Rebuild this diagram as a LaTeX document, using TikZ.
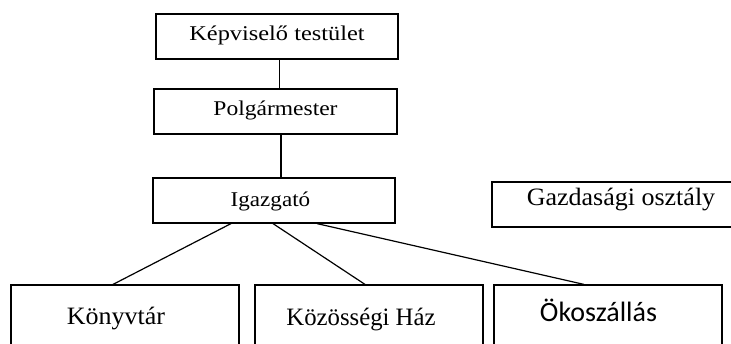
\documentclass[tikz,border=0pt]{standalone}
\usepackage{graphicx}
\usepackage{fontspec}
\setmainfont{Liberation Serif}
\newfontfamily\calib{Carlito}
\newcommand\widetext[2]{\scalebox{#1}[1]{#2}}
\begin{document}
\begin{tikzpicture}[x=1pt,y=-1pt,
  box/.style={draw=black,line width=1.2pt,inner sep=0pt,minimum height=45pt,text depth=10pt},
  topbox/.style={box,minimum width=242pt,font=\fontsize{21}{25}\selectfont},
  lowbox/.style={box,minimum width=228pt,minimum height=60pt,text height=22pt},
  link/.style={draw=black,line width=1.2pt}]
\clip (0,0) rectangle (731,343);
\fill[white] (0,0) rectangle (731,343);
\node[topbox,text height=18pt] (kep) at (277,36.5) {\widetext{1.16}{Képviselő testület}};
\node[topbox,minimum width=243pt,text height=17pt] (pol) at (275.5,111.5) {\widetext{1.12}{Polgármester}};
\node[topbox,text height=21pt] (igaz) at (274,200.5) {\widetext{1.1}{Igazgató}\hspace*{7pt}};
\node[box,minimum width=258pt,text height=11pt,font=\fontsize{25}{29}\selectfont] (gaz) at (621,204.5) {\widetext{1.04}{Gazdasági osztály}};
\node[lowbox,text height=28pt,font=\fontsize{25}{29}\selectfont] (konyv) at (125,315) {\widetext{1.04}{Könyvtár}\hspace*{18pt}};
\node[lowbox,text height=30pt,font=\fontsize{25}{29}\selectfont] (kozos) at (369,315) {\widetext{0.99}{Közösségi Ház}\hspace*{16pt}};
\node[lowbox,text height=23pt,font=\calib\fontsize{28}{32}\selectfont] (oko) at (608,315) {Ökoszállás\hspace*{19pt}};
\draw[link] ([xshift=2.5pt]kep.south) -- ([xshift=4pt]pol.north);
\draw[link] ([xshift=5.5pt]pol.south) -- ([xshift=7pt]igaz.north);
\draw[link] ([xshift=-43pt]igaz.south) -- ([xshift=-12pt]konyv.north);
\draw[link] ([xshift=-1pt]igaz.south) -- ([xshift=-4pt]kozos.north);
\draw[link] ([xshift=43pt]igaz.south) -- ([xshift=-24pt]oko.north);
\end{tikzpicture}
\end{document}
